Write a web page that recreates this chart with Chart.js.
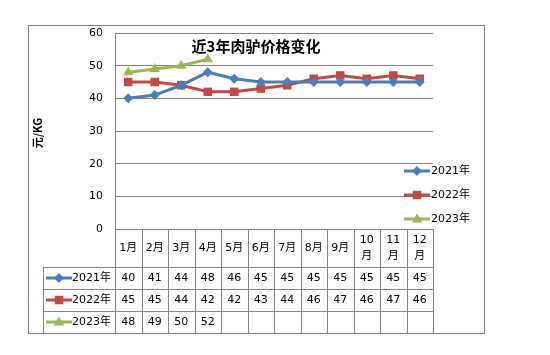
<!DOCTYPE html>
<html>
<head>
<meta charset="utf-8">
<script src="https://cdn.jsdelivr.net/npm/chart.js@4/dist/chart.umd.min.js"></script>
<style>
  html, body { margin: 0; padding: 0; background: #fff; }
  #wrap { width: 550px; height: 355px; }
</style>
</head>
<body>
<div id="wrap"><canvas id="chart" width="550" height="355"></canvas></div>
<script>
// ===== data =====
const months = ['1月', '2月', '3月', '4月', '5月', '6月', '7月', '8月', '9月', '10月', '11月', '12月'];
const seriesNames = ['2021年', '2022年', '2023年'];
const price2021 = [40, 41, 44, 48, 46, 45, 45, 45, 45, 45, 45, 45];
const price2022 = [45, 45, 44, 42, 42, 43, 44, 46, 47, 46, 47, 46];
const price2023 = [48, 49, 50, 52, null, null, null, null, null, null, null, null];
const yMin = 0, yMax = 60, yStep = 10;
const chartTitle = '近3年肉驴价格变化';
const yTitle = '元/KG';

const colors = ['#4A7EBB', '#BE4B48', '#98B954'];
const markers = ['rectRot', 'rect', 'triangle'];
const markerSize = [5, 6, 6];
const gridColor = '#868686';
const FONT = '"DejaVu Sans", "Noto Sans CJK SC", sans-serif';
const CJK = '"Noto Sans CJK SC", "DejaVu Sans", sans-serif';

const allSeries = [price2021, price2022, price2023];

// own marker, same shapes as the dataset points
function drawMarker(ctx, style, x, y, r, color) {
    ctx.save();
    ctx.fillStyle = color;
    ctx.beginPath();
    if (style === 'rectRot') {
        ctx.moveTo(x - r, y); ctx.lineTo(x, y - r); ctx.lineTo(x + r, y); ctx.lineTo(x, y + r);
    } else if (style === 'rect') {
        const s = Math.SQRT1_2 * r;
        ctx.rect(x - s, y - s, 2 * s, 2 * s);
    } else {
        const h = r * 1.5;
        ctx.moveTo(x, y - h * 0.6); ctx.lineTo(x + r * 0.87, y + h * 0.4); ctx.lineTo(x - r * 0.87, y + h * 0.4);
    }
    ctx.closePath();
    ctx.fill();
    ctx.restore();
}

function legendKey(ctx, i, x, y) {
    ctx.save();
    ctx.strokeStyle = colors[i];
    ctx.lineWidth = 3;
    ctx.beginPath();
    ctx.moveTo(x, y); ctx.lineTo(x + 26, y);
    ctx.stroke();
    ctx.restore();
    drawMarker(ctx, markers[i], x + 13, y, markerSize[i], colors[i]);
}

// ===== frame, title, legend and data table =====
const excelDecor = {
    id: 'excelDecor',
    afterDraw(chart) {
        const ctx = chart.ctx;
        const ca = chart.chartArea;
        const xs = chart.scales.x;
        const colW = (ca.right - ca.left) / months.length;
        const headH = 38, rowH = 22, rowHeadL = 43;
        const tableBottom = ca.bottom + headH + rowH * 3;

        ctx.save();
        ctx.strokeStyle = gridColor;
        ctx.lineWidth = 1;

        // outer frame
        ctx.strokeRect(28.5, 25.5, 456, tableBottom - 25);

        // table lines
        ctx.beginPath();
        for (let i = 0; i <= months.length; i++) {
            const x = Math.round(ca.left + i * colW) + 0.5;
            ctx.moveTo(x, ca.bottom); ctx.lineTo(x, tableBottom);
        }
        for (let r = 0; r < 3; r++) {
            const y = Math.round(ca.bottom + headH + r * rowH) + 0.5;
            ctx.moveTo(rowHeadL, y); ctx.lineTo(Math.round(ca.right) + 1, y);
        }
        ctx.moveTo(rowHeadL + 0.5, ca.bottom + headH); ctx.lineTo(rowHeadL + 0.5, tableBottom);
        ctx.stroke();

        // header row (month labels, wrapped when too wide)
        ctx.fillStyle = '#000';
        ctx.textAlign = 'center';
        ctx.textBaseline = 'middle';
        ctx.font = '11px ' + FONT;
        months.forEach((m, i) => {
            const x = xs.getPixelForValue(i);
            const midY = ca.bottom + headH / 2;
            if (m.length > 2) {
                ctx.fillText(m.slice(0, -1), x, midY - 8);
                ctx.fillText(m.slice(-1), x, midY + 8);
            } else {
                ctx.fillText(m, x, midY);
            }
        });

        // value rows
        allSeries.forEach((vals, r) => {
            const y = ca.bottom + headH + r * rowH + rowH / 2;
            vals.forEach((v, i) => {
                if (v === null) return;
                ctx.fillText(String(v), xs.getPixelForValue(i), y);
            });
            legendKey(ctx, r, rowHeadL + 3, y);
            ctx.textAlign = 'left';
            ctx.fillText(seriesNames[r], rowHeadL + 29, y);
            ctx.textAlign = 'center';
        });

        // right legend
        ctx.textAlign = 'left';
        seriesNames.forEach((n, i) => {
            const y = 171 + i * 24;
            legendKey(ctx, i, 404, y);
            ctx.fillStyle = '#000';
            ctx.fillText(n, 431, y);
        });

        // chart title
        ctx.textAlign = 'center';
        ctx.font = 'bold 15px ' + CJK;
        ctx.fillText(chartTitle, 256, 46);

        // y axis title
        ctx.save();
        ctx.translate(38, 133);
        ctx.rotate(-Math.PI / 2);
        ctx.font = 'bold 11px ' + CJK;
        ctx.fillText(yTitle, 0, 0);
        ctx.restore();

        ctx.restore();
    }
};

const makeSet = (i, data) => ({
    label: seriesNames[i],
    data,
    borderColor: colors[i],
    backgroundColor: colors[i],
    borderWidth: 3,
    pointStyle: markers[i],
    pointRadius: markerSize[i],
    pointBorderWidth: 0,
    pointBackgroundColor: colors[i],
    tension: 0,
    spanGaps: false
});

new Chart(document.getElementById('chart'), {
    type: 'line',
    data: {
        labels: months,
        datasets: allSeries.map((d, i) => makeSet(i, d))
    },
    options: {
        responsive: false,
        animation: false,
        layout: { padding: { left: 30, top: 33, right: 117, bottom: 126 } },
        plugins: {
            legend: { display: false },
            tooltip: { enabled: false },
            title: { display: false }
        },
        scales: {
            x: {
                display: false,
                offset: true
            },
            y: {
                min: yMin,
                max: yMax,
                afterFit(s) { s.width = 85; },
                ticks: {
                    stepSize: yStep,
                    padding: 12,
                    color: '#000',
                    font: { family: FONT, size: 11 }
                },
                grid: { color: gridColor, drawTicks: false, lineWidth: 1 },
                border: { display: true, color: gridColor }
            }
        }
    },
    plugins: [excelDecor]
});
</script>
</body>
</html>
